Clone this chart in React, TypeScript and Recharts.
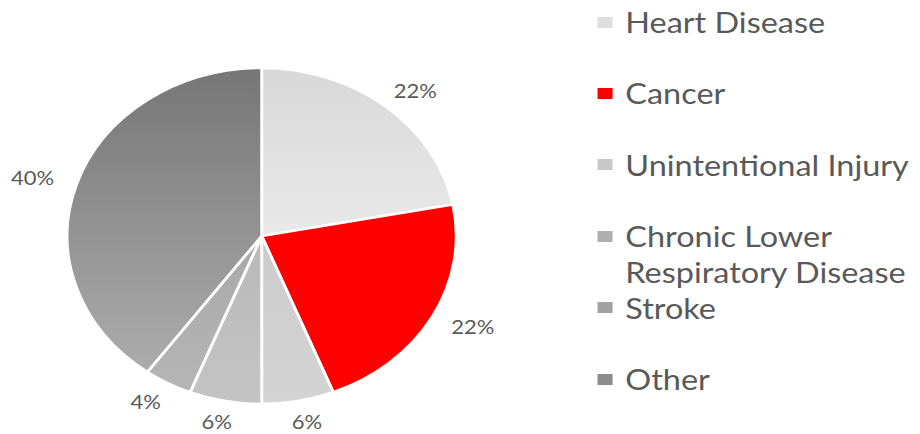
import { PieChart, Pie, Cell, Legend } from 'recharts';

// leading causes of death, share of total
const causes = [
  'Heart Disease',
  'Cancer',
  'Unintentional Injury',
  'Chronic Lower Respiratory Disease',
  'Stroke',
  'Other',
];
const shares = [22, 22, 6, 6, 4, 40];

const sliceTop = ['#d8d8d8', '#ff0000', '#cbcbcb', '#b9b9b9', '#a9a9a9', '#767676'];
const sliceBottom = ['#e9e9e9', '#ff0000', '#d4d4d4', '#c4c4c4', '#b5b5b5', '#acacac'];
const swatchColors = ['#dedede', '#ff0000', '#c8c8c8', '#b0b0b0', '#a2a2a2', '#8c8c8c'];

const data = causes.map((name, i) => ({ name, value: shares[i] }));

// the reference picture is stretched sideways
const STRETCH = 1.158;
const W = 795;
const H = 434;
const FONT = 'Lato, "Open Sans", sans-serif';
const RAD = Math.PI / 180;

const renderLabel = (props: any) => {
  const { cx, cy, midAngle, outerRadius, percent } = props;
  const x = cx + (outerRadius + 40) * Math.cos(-midAngle * RAD);
  const y = cy + (outerRadius + 21) * Math.sin(-midAngle * RAD);
  return (
    <text x={x} y={y} fill="#595959" fontSize={19} fontFamily={FONT}
      textAnchor="middle" dominantBaseline="central">
      {`${Math.round(percent * 100)}%`}
    </text>
  );
};

const renderLegend = (props: any) => {
  const payload = [...(props.payload || [])].sort(
    (a: any, b: any) => causes.indexOf(a.value) - causes.indexOf(b.value)
  );
  return (
    <div style={{ position: 'relative', width: 280, height: H }}>
      {payload.map((entry: any) => {
        const i = causes.indexOf(entry.value);
        return (
          <div key={entry.value} style={{
            position: 'absolute', left: 0, top: 22 + i * 71.4 - 18,
            display: 'flex', alignItems: 'flex-start',
          }}>
            <div style={{
              width: 13, height: 11, marginTop: 12.5, marginRight: 11,
              background: swatchColors[i], flexShrink: 0,
            }} />
            <div style={{
              width: 260, lineHeight: '36px', fontSize: 28, fontFamily: FONT,
              color: '#595959',
            }}>
              {entry.value}
            </div>
          </div>
        );
      })}
    </div>
  );
};

export default function App() {
  return (
    <div style={{ position: 'absolute', left: 0, top: 0, width: 920, height: H, overflow: 'hidden', background: '#fff' }}>
      <div style={{ width: W, height: H, transform: `scaleX(${STRETCH})`, transformOrigin: '0 0' }}>
        <PieChart width={W} height={H} margin={{ top: 0, right: 0, bottom: 0, left: 0 }}>
          <defs>
            {causes.map((c, i) => (
              <linearGradient key={c} id={`slice${i}`} x1="0" y1="0" x2="0" y2="1">
                <stop offset="0%" stopColor={sliceTop[i]} />
                <stop offset="100%" stopColor={sliceBottom[i]} />
              </linearGradient>
            ))}
          </defs>
          <Pie
            data={data}
            dataKey="value"
            nameKey="name"
            cx={226}
            cy={236}
            outerRadius={168}
            startAngle={90}
            endAngle={-270}
            stroke="#ffffff"
            strokeWidth={2.5}
            label={renderLabel}
            labelLine={false}
            isAnimationActive={false}
          >
            {data.map((d, i) => (
              <Cell key={d.name} fill={`url(#slice${i})`} />
            ))}
          </Pie>
          <Legend
            layout="vertical"
            align="right"
            verticalAlign="top"
            content={renderLegend}
            wrapperStyle={{ position: 'absolute', left: 516, top: 0, width: 280, height: H }}
          />
        </PieChart>
      </div>
    </div>
  );
}
